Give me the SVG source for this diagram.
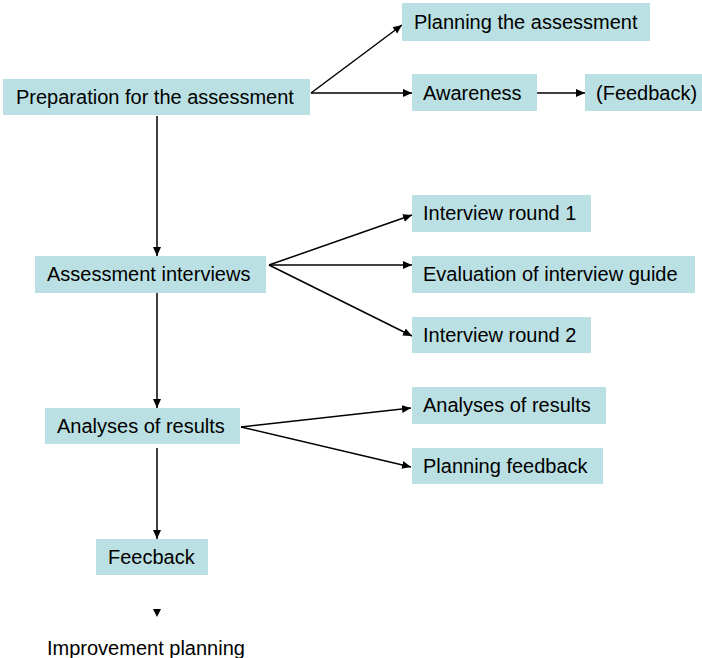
<svg xmlns="http://www.w3.org/2000/svg" width="702" height="658" viewBox="0 0 702 658">
  <style>
    .box { fill: #bbe0e3; }
    .lbl { font-family: "Liberation Sans", Arial, sans-serif; font-size: 20px; fill: #000; }
    .edge { stroke: #000; stroke-width: 1.5; fill: none; marker-end: url(#arrow); }
  </style>
  <defs>
    <marker id="arrow" markerUnits="userSpaceOnUse" markerWidth="10" markerHeight="10" viewBox="0 0 10 10" refX="9" refY="5" orient="auto">
      <path d="M0,1 L9,5 L0,9 Z" fill="#000"/>
    </marker>
  </defs>

  <rect width="702" height="658" fill="#fff"/>

  <g id="connectors">
    <line class="edge" x1="311" y1="93" x2="402" y2="25"/>
    <line class="edge" x1="311" y1="93" x2="412" y2="93"/>
    <line class="edge" x1="537" y1="93" x2="585" y2="93"/>
    <line class="edge" x1="157" y1="116" x2="157" y2="256"/>
    <line class="edge" x1="269" y1="265" x2="412" y2="215"/>
    <line class="edge" x1="269" y1="265" x2="412" y2="265"/>
    <line class="edge" x1="269" y1="265" x2="412" y2="336"/>
    <line class="edge" x1="157" y1="290" x2="157" y2="408"/>
    <line class="edge" x1="241" y1="427" x2="411" y2="408"/>
    <line class="edge" x1="241" y1="427" x2="411" y2="467"/>
    <line class="edge" x1="157" y1="448" x2="157" y2="539"/>
    <path d="M153,609 L161,609 L157,617 Z" fill="#000"/>
  </g>

  <g id="planning-assessment">
    <rect class="box" x="402" y="3" width="248" height="38"/>
    <text class="lbl" x="414" y="29">Planning the assessment</text>
  </g>
  <g id="preparation">
    <rect class="box" x="3" y="79" width="307" height="36"/>
    <text class="lbl" x="16" y="104">Preparation for the assessment</text>
  </g>
  <g id="awareness">
    <rect class="box" x="412" y="74" width="125" height="37"/>
    <text class="lbl" x="423" y="100">Awareness</text>
  </g>
  <g id="feedback-top">
    <rect class="box" x="585" y="74" width="117" height="37"/>
    <text class="lbl" x="596" y="100">(Feedback)</text>
  </g>
  <g id="assessment-interviews">
    <rect class="box" x="35" y="256" width="231" height="37"/>
    <text class="lbl" x="47" y="281">Assessment interviews</text>
  </g>
  <g id="interview-round-1">
    <rect class="box" x="412" y="195" width="179" height="37"/>
    <text class="lbl" x="423" y="220">Interview round 1</text>
  </g>
  <g id="evaluation-guide">
    <rect class="box" x="412" y="256" width="283" height="37"/>
    <text class="lbl" x="423" y="281">Evaluation of interview guide</text>
  </g>
  <g id="interview-round-2">
    <rect class="box" x="412" y="317" width="179" height="36"/>
    <text class="lbl" x="423" y="342">Interview round 2</text>
  </g>
  <g id="analyses-main">
    <rect class="box" x="45" y="408" width="195" height="36"/>
    <text class="lbl" x="57" y="433">Analyses of results</text>
  </g>
  <g id="analyses-sub">
    <rect class="box" x="412" y="387" width="194" height="37"/>
    <text class="lbl" x="423" y="412">Analyses of results</text>
  </g>
  <g id="planning-feedback">
    <rect class="box" x="412" y="448" width="191" height="36"/>
    <text class="lbl" x="423" y="473">Planning feedback</text>
  </g>
  <g id="feecback">
    <rect class="box" x="96" y="539" width="112" height="36"/>
    <text class="lbl" x="108" y="564">Feecback</text>
  </g>
  <g id="improvement-planning">
    <text class="lbl" x="47" y="655">Improvement planning</text>
  </g>
</svg>
